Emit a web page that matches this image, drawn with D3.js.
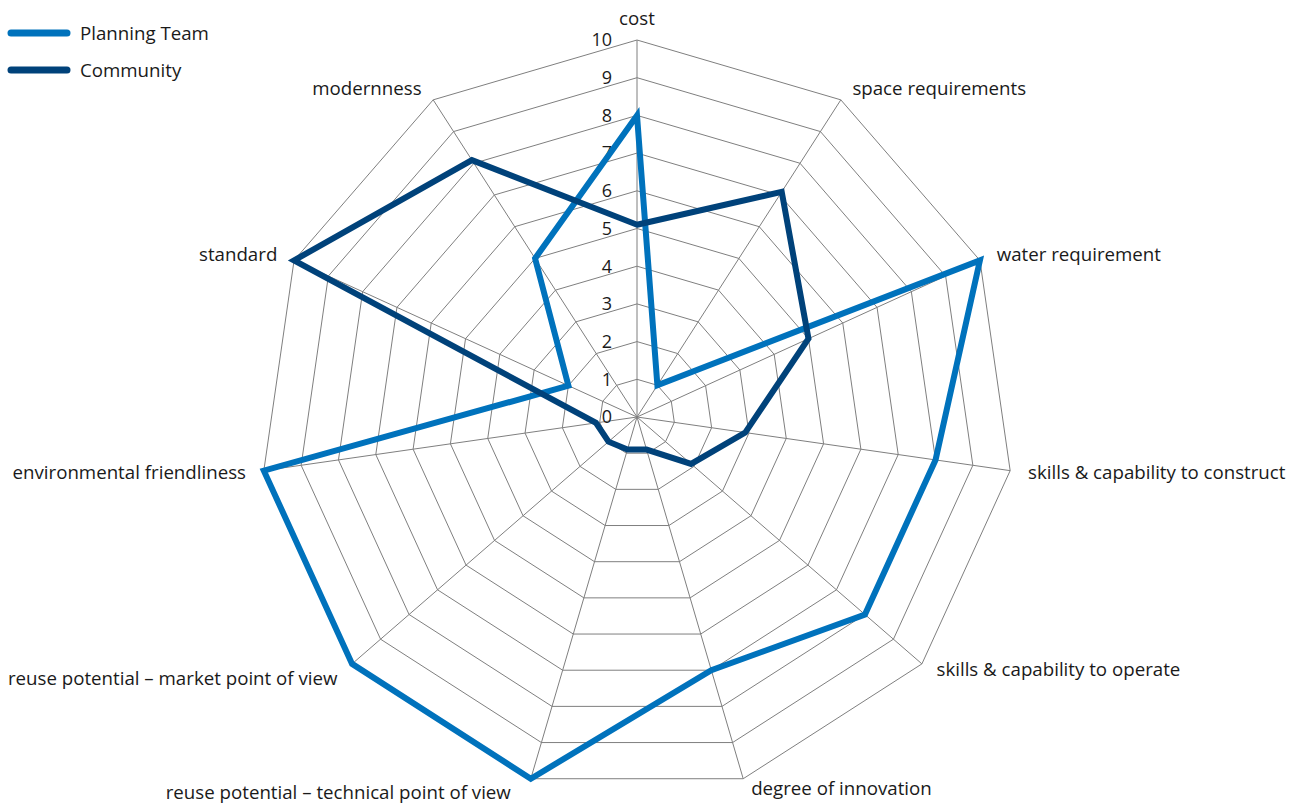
<!DOCTYPE html>
<html>
<head>
<meta charset="utf-8">
<script src="https://cdn.jsdelivr.net/npm/d3@7"></script>
<style>
  body { margin: 0; background: #fff; }
  text { font-family: "Open Sans", "Noto Sans", sans-serif; fill: #1a1a1a; }
</style>
</head>
<body>
<div id="chart"></div>
<script>
// categories (clockwise from top)
const categories = [
  "cost",
  "space requirements",
  "water requirement",
  "skills & capability to construct",
  "skills & capability to operate",
  "degree of innovation",
  "reuse potential \u2013 technical point of view",
  "reuse potential \u2013 market point of view",
  "environmental friendliness",
  "standard",
  "modernness"
];

const planningTeam = [8, 1, 10, 8, 8, 7, 10, 10, 10, 2, 5];
const community = [5.1, 7.1, 5, 2.9, 1.9, 0.9, 0.9, 1, 1.1, 10, 8.1];

const tickValues = [0, 1, 2, 3, 4, 5, 6, 7, 8, 9, 10];

const seriesNames = ["Planning Team", "Community"];
const seriesColors = ["#0072bc", "#00427a"];

const width = 1308, height = 806;
const cx = 637, cy = 417, R = 377;
const fontSize = 18.7;

const svg = d3.select("#chart")
  .append("svg")
  .attr("width", width)
  .attr("height", height);

const r = d3.scaleLinear().domain([0, 10]).range([0, R]);
const angle = d3.scalePoint()
  .domain(d3.range(categories.length + 1))
  .range([0, 2 * Math.PI]);

const px = (i, v) => cx + r(v) * Math.sin(angle(i));
const py = (i, v) => cy - r(v) * Math.cos(angle(i));

const g = svg.append("g");

// rings
tickValues.slice(1).forEach(function(t) {
  const pts = categories.map((c, i) => [px(i, t), py(i, t)]);
  g.append("polygon")
    .attr("points", pts.map(p => p.join(",")).join(" "))
    .attr("fill", "none")
    .attr("stroke", "#7f7f7f")
    .attr("stroke-width", 1);
});

// spokes
categories.forEach(function(c, i) {
  g.append("line")
    .attr("x1", cx).attr("y1", cy)
    .attr("x2", px(i, 10)).attr("y2", py(i, 10))
    .attr("stroke", "#7f7f7f")
    .attr("stroke-width", 1);
});

// tick labels
g.selectAll("text.tick")
  .data(tickValues)
  .enter()
  .append("text")
  .attr("class", "tick")
  .attr("x", cx - 25)
  .attr("y", d => cy - r(d))
  .attr("dy", "0.35em")
  .attr("text-anchor", "end")
  .attr("font-size", 18)
  .text(d => d);

// series
const line = d3.line()
  .x((d, i) => px(i, d))
  .y((d, i) => py(i, d))
  .curve(d3.curveLinearClosed);

[planningTeam, community].forEach(function(vals, k) {
  g.append("path")
    .attr("d", line(vals))
    .attr("fill", "none")
    .attr("stroke", seriesColors[k])
    .attr("stroke-width", 6)
    .attr("stroke-linejoin", "miter");
});

// category labels
categories.forEach(function(c, i) {
  const a = angle(i), s = Math.sin(a), co = Math.cos(a);
  const side = Math.abs(s) < 0.05 ? 0 : (s > 0 ? 1 : -1);
  let x = cx + (R + 14) * s + 4 * side;
  let y = cy - (R + 14) * co;
  if (side === 0) y -= 8;
  // lower labels: nudge like the original layout
  if (co < -0.5 && co > -0.9) y += side < 0 ? 5 : -4;
  if (co <= -0.9) { y += side < 0 ? 0 : -4; x += side < 0 ? -12 : 0; }
  g.append("text")
    .attr("x", x)
    .attr("y", y)
    .attr("dy", "0.35em")
    .attr("text-anchor", side === 0 ? "middle" : (side > 0 ? "start" : "end"))
    .attr("font-size", fontSize)
    .text(c);
});

// legend
const legend = svg.append("g");
seriesNames.forEach(function(name, k) {
  const ly = 33 + k * 37;
  legend.append("line")
    .attr("x1", 11).attr("x2", 67)
    .attr("y1", ly).attr("y2", ly)
    .attr("stroke", seriesColors[k])
    .attr("stroke-width", 7)
    .attr("stroke-linecap", "round");
  legend.append("text")
    .attr("x", 80)
    .attr("y", ly)
    .attr("dy", "0.35em")
    .attr("font-size", fontSize)
    .text(name);
});
</script>
</body>
</html>
